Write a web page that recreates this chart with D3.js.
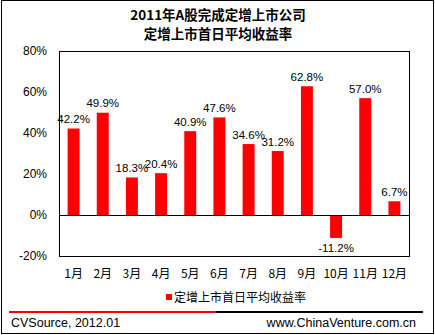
<!DOCTYPE html>
<html><head><meta charset="utf-8">
<script src="https://cdn.jsdelivr.net/npm/d3@7"></script>
<style>body{margin:0;background:#fff}svg{display:block}</style>
</head><body>
<script>
const categories = ["1月","2月","3月","4月","5月","6月","7月","8月","9月","10月","11月","12月"];
const values = [42.2,49.9,18.3,20.4,40.9,47.6,34.6,31.2,62.8,-11.2,57.0,6.7];
const yTicks = [-20,0,20,40,60,80];
const titleLines = ["2011年A股完成定增上市公司","定增上市首日平均收益率"];
const seriesName = "定增上市首日平均收益率";
const footLeft = "CVSource, 2012.01";
const footRight = "www.ChinaVenture.com.cn";

const W=435,H=335;
const svg=d3.select("body").append("svg").attr("width",W).attr("height",H);
const font="'Liberation Sans', Arial, sans-serif";
svg.append("rect").attr("x",1.5).attr("y",0.5).attr("width",432).attr("height",333).attr("fill","#fff").attr("stroke","#000").attr("stroke-width",1);

const m={l:59,t:51,r:409,b:256};
const x=d3.scaleBand().domain(categories).range([m.l,m.r]).paddingInner(0.59).paddingOuter(0.295);
const y=d3.scaleLinear().domain([-20,80]).range([m.b,m.t]);

svg.selectAll("text.title").data(titleLines).enter().append("text")
 .attr("x",218).attr("y",(d,i)=>20+i*19).attr("text-anchor","middle")
 .attr("font-family","'Noto Sans CJK SC', sans-serif").attr("font-weight","bold").attr("font-size",13.5).text(d=>d);

svg.append("rect").attr("x",m.l+0.5).attr("y",m.t+0.5).attr("width",m.r-m.l).attr("height",m.b-m.t).attr("fill","none").attr("stroke","#000");

const ya=svg.append("g").attr("transform",`translate(${m.l},0)`)
 .call(d3.axisLeft(y).tickValues(yTicks).tickSize(0).tickPadding(12).tickFormat(d=>d+"%"));
ya.select(".domain").remove();
ya.selectAll("text").attr("font-family",font).attr("font-size",12).attr("fill","#000");

svg.selectAll("rect.bar").data(values).enter().append("rect")
 .attr("x",(d,i)=>x(categories[i])).attr("width",x.bandwidth())
 .attr("y",d=>y(Math.max(0,d))).attr("height",d=>Math.abs(y(d)-y(0))).attr("fill","#ff0000");

svg.append("line").attr("x1",m.l).attr("x2",m.r).attr("y1",y(0)+0.5).attr("y2",y(0)+0.5).attr("stroke","#000");

svg.selectAll("text.lab").data(values).enter().append("text")
 .attr("x",(d,i)=>x(categories[i])+x.bandwidth()/2)
 .attr("y",d=>d>=0?y(d)-5.5:y(d)+14).attr("text-anchor","middle")
 .attr("font-family",font).attr("font-size",11.5).text(d=>d.toFixed(1)+"%");

const xa=svg.append("g").attr("transform",`translate(0,${m.b})`)
 .call(d3.axisBottom(x).tickSize(0).tickPadding(13));
xa.select(".domain").remove();
xa.selectAll("text").attr("font-family","'Noto Sans CJK SC', "+font).attr("font-size",12).attr("fill","#000");

svg.append("rect").attr("x",166).attr("y",294).attr("width",6).attr("height",6).attr("fill","#ff0000");
svg.append("text").attr("x",174).attr("y",302).attr("font-family","'Noto Sans CJK SC', sans-serif").attr("font-size",12).text(seriesName);

svg.append("line").attr("x1",9).attr("x2",216).attr("y1",312).attr("y2",312).attr("stroke","#ff0000").attr("stroke-width",2);
svg.append("line").attr("x1",216).attr("x2",423).attr("y1",312).attr("y2",312).attr("stroke","#000").attr("stroke-width",2);
svg.append("text").attr("x",11).attr("y",327).attr("font-family",font).attr("font-size",12.5).text(footLeft);
svg.append("text").attr("x",416).attr("y",327).attr("text-anchor","end").attr("font-family",font).attr("font-size",12.5).text(footRight);
</script>
</body></html>
